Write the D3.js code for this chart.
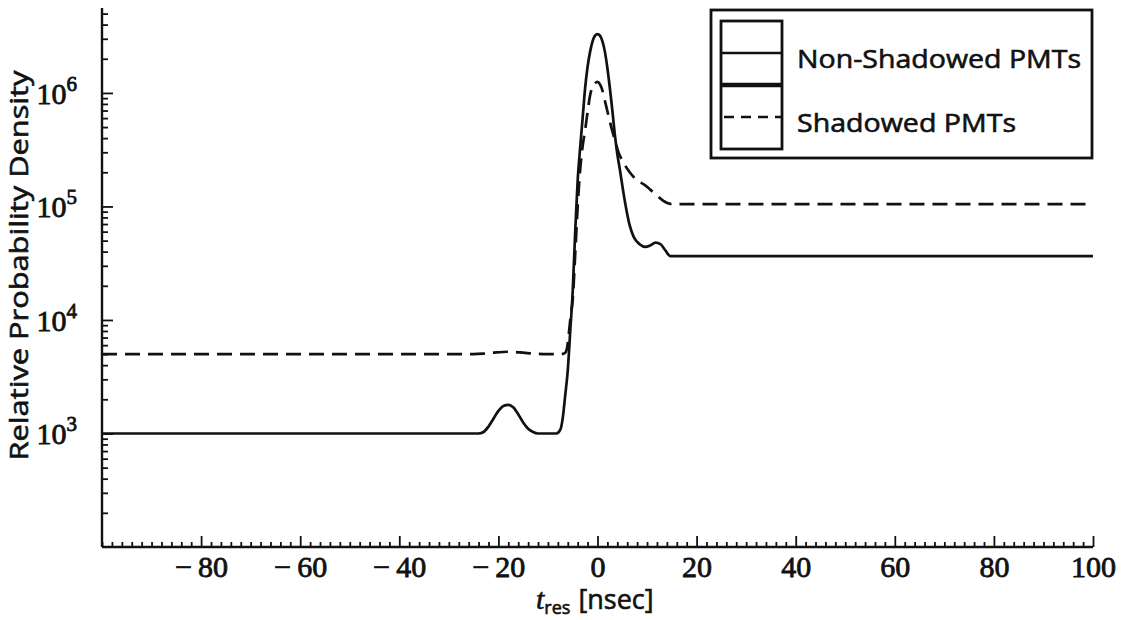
<!DOCTYPE html>
<html>
<head>
<meta charset="utf-8">
<script src="https://cdn.jsdelivr.net/npm/d3@7"></script>
<style>
  html, body { margin: 0; padding: 0; background: #fff; }
  svg { display: block; }
</style>
</head>
<body>
<svg id="chart" width="1128" height="620"></svg>
<script>
// Residual time samples (ns) and relative probability density, non-shadowed PMTs
const tNonShadowed = [-100, -30, -24, -23, -22, -21, -20, -19, -18, -17, -16, -15, -14, -13, -12,
  -8.3, -7.5, -7, -6.5, -6, -5.5, -5, -4.5, -4, -3.5, -3, -2.5, -2, -1.5, -1, -0.5, 0,
  0.5, 1, 1.5, 2, 2.5, 3, 3.5, 4, 4.6, 5.2, 5.8, 6.5, 7.3, 8.5, 9.7, 10.7, 11.7, 12.7, 13.7, 14.7, 100];
const vNonShadowed = [1000, 1000, 1000, 1030, 1150, 1350, 1580, 1750, 1790, 1700, 1480, 1250, 1100, 1030, 1000,
  1000, 1080, 1380, 2200, 3600, 8000, 18000, 60000, 170000, 330000, 600000, 1100000, 1700000, 2300000, 2850000, 3200000, 3300000,
  3200000, 2850000, 2300000, 1650000, 1100000, 700000, 430000, 290000, 200000, 135000, 95000, 68000, 54000, 46500, 44000, 45500, 48000, 46500, 41000, 36500, 36500];

// Residual time samples (ns) and relative probability density, shadowed PMTs
const tShadowed = [-100, -25, -23, -21, -18, -15, -13, -10, -7.4, -6.6, -6.2, -5.8, -5.4, -5, -4.5, -4, -3.5, -3, -2.5, -2, -1.5, -1, -0.5, 0,
  0.5, 1, 1.5, 2, 2.5, 3, 3.5, 4.3, 5.1, 6.5, 8, 9.5, 10.7, 12, 13.3, 15, 100];
const vShadowed = [5000, 5000, 5050, 5150, 5250, 5150, 5050, 5000, 5000, 5100, 5500, 7500, 11000, 15000, 38000, 100000, 210000, 340000, 470000, 680000, 950000, 1130000, 1220000, 1250000,
  1190000, 1050000, 850000, 690000, 560000, 460000, 385000, 295000, 250000, 200000, 170000, 155000, 140000, 125000, 112000, 105000, 105000];

const xMajorTicks = [-80, -60, -40, -20, 0, 20, 40, 60, 80, 100];
const yMajorExponents = [3, 4, 5, 6];
const seriesLabels = ["Non-Shadowed PMTs", "Shadowed PMTs"];

const svg = d3.select("#chart");
const plot = { left: 102, right: 1093, top: 8, bottom: 547 };

const x = d3.scaleLinear().domain([-100, 100]).range([plot.left, plot.right]);
const y = d3.scaleLog().domain([100, 5.6e6]).range([plot.bottom, plot.top]);

const ink = "#111";
const SERIF = '"Liberation Serif", serif';
const SANS = '"Open Sans", sans-serif';

// Minor ticks on x every 2 ns, on y at 2..9 x 10^k
const xMinor = d3.range(-100, 100.001, 2).filter(v => !xMajorTicks.includes(v));
const yMinor = [];
for (let k = 2; k <= 6; k++) for (let m = 2; m <= 9; m++) {
  const v = m * Math.pow(10, k);
  if (v <= y.domain()[1]) yMinor.push(v);
}

// x axis
const xAxis = svg.append("g").attr("transform", `translate(0,${plot.bottom})`);
xAxis.append("g")
  .call(d3.axisBottom(x).tickValues(xMinor).tickSizeInner(-5).tickSizeOuter(0).tickFormat(""))
  .call(g => g.select(".domain").remove());
xAxis.append("g")
  .call(d3.axisBottom(x).tickValues(xMajorTicks).tickSizeInner(-11).tickSizeOuter(0)
    .tickPadding(9).tickFormat(d => d < 0 ? "\u2212\u2009" + Math.abs(d) : String(d)))
  .call(g => g.select(".domain").attr("stroke-width", 2.4).attr("stroke", ink)
    .attr("d", `M${plot.left},0H${plot.right}`));
xAxis.selectAll(".tick line").attr("stroke", ink).attr("stroke-width", 1.8);
xAxis.selectAll(".tick text")
  .style("font-family", SERIF)
  .style("font-size", "30px")
  .attr("fill", ink)
  .attr("stroke", ink).attr("stroke-width", 0.8);

// y axis
const yAxis = svg.append("g").attr("transform", `translate(${plot.left},0)`);
yAxis.append("g")
  .call(d3.axisLeft(y).tickValues(yMinor).tickSizeInner(-6).tickSizeOuter(0).tickFormat(""))
  .call(g => g.select(".domain").remove());
yAxis.append("g")
  .call(d3.axisLeft(y).tickValues(yMajorExponents.map(e => Math.pow(10, e)))
    .tickSizeInner(-11).tickSizeOuter(0).tickFormat(""))
  .call(g => g.select(".domain").attr("stroke-width", 2.4).attr("stroke", ink)
    .attr("d", `M0,${plot.top}V${plot.bottom}`));
yAxis.selectAll(".tick line").attr("stroke", ink).attr("stroke-width", 1.8);

// y tick labels as 10 with a superscript exponent
yAxis.selectAll(".ylab")
  .data(yMajorExponents)
  .join("text")
  .attr("class", "ylab")
  .attr("x", -25)
  .attr("y", e => y(Math.pow(10, e)) + 11)
  .attr("text-anchor", "end")
  .style("font-family", SERIF)
  .attr("fill", ink)
  .attr("stroke", ink).attr("stroke-width", 0.8)
  .each(function (e) {
    const t = d3.select(this);
    t.append("tspan").style("font-size", "30px").text("10");
    t.append("tspan").style("font-size", "21px").attr("dy", -13).text(String(e));
  });

// axis titles
svg.append("text")
  .attr("transform", `translate(28,${(plot.top + plot.bottom) / 2 - 12}) rotate(-90)`)
  .attr("text-anchor", "middle")
  .style("font-family", SANS)
  .style("font-size", "25px")
  .attr("fill", ink)
  .attr("stroke", ink).attr("stroke-width", 0.6)
  .attr("textLength", 390)
  .attr("lengthAdjust", "spacingAndGlyphs")
  .text("Relative Probability Density");

const xt = svg.append("text")
  .attr("x", 536).attr("y", 609)
  .attr("fill", ink)
  .attr("stroke", ink).attr("stroke-width", 0.6);
xt.append("tspan").style("font-family", SERIF).style("font-style", "italic").style("font-size", "30px").text("t");
xt.append("tspan").style("font-family", SANS).style("font-size", "18px").attr("dy", 5).text("res");
xt.append("tspan").style("font-family", SANS).style("font-size", "27px").attr("dy", -5).attr("dx", 8).text("[nsec]");

// curves
const line = d3.line()
  .x(d => x(d[0]))
  .y(d => y(d[1]))
  .curve(d3.curveMonotoneX);

svg.append("path")
  .datum(d3.zip(tNonShadowed, vNonShadowed))
  .attr("fill", "none")
  .attr("stroke", ink)
  .attr("stroke-width", 2.7)
  .attr("d", line);

svg.append("path")
  .datum(d3.zip(tShadowed, vShadowed))
  .attr("fill", "none")
  .attr("stroke", ink)
  .attr("stroke-width", 2.7)
  .attr("stroke-dasharray", "15,8")
  .attr("d", line);

// legend
const lg = svg.append("g");
lg.append("rect")
  .attr("x", 711).attr("y", 10).attr("width", 381).attr("height", 148)
  .attr("fill", "#fff").attr("stroke", ink).attr("stroke-width", 2.8);
lg.append("rect")
  .attr("x", 721).attr("y", 21).attr("width", 61).attr("height", 128)
  .attr("fill", "none").attr("stroke", ink).attr("stroke-width", 2.8);
lg.append("line")
  .attr("x1", 721).attr("x2", 782).attr("y1", 53).attr("y2", 53)
  .attr("stroke", ink).attr("stroke-width", 2.4);
lg.append("line")
  .attr("x1", 721).attr("x2", 782).attr("y1", 85).attr("y2", 85)
  .attr("stroke", ink).attr("stroke-width", 4.5);
lg.append("line")
  .attr("x1", 721).attr("x2", 782).attr("y1", 117).attr("y2", 117)
  .attr("stroke", ink).attr("stroke-width", 2.4)
  .attr("stroke-dasharray", "10,7").attr("stroke-dashoffset", -3);

const legendWidths = [284, 219];
lg.selectAll(".lt")
  .data(seriesLabels)
  .join("text")
  .attr("class", "lt")
  .attr("x", 797)
  .attr("y", (d, i) => 68 + i * 64)
  .style("font-family", SANS)
  .style("font-size", "26px")
  .attr("fill", ink)
  .attr("stroke", ink).attr("stroke-width", 0.6)
  .attr("textLength", (d, i) => legendWidths[i])
  .attr("lengthAdjust", "spacingAndGlyphs")
  .text(d => d);
</script>
</body>
</html>
